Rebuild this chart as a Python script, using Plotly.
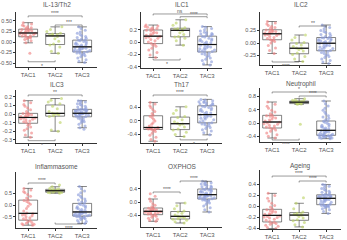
import plotly.graph_objects as go
import numpy as np

groups = ["TAC1", "TAC2", "TAC3"]
colors = ["#F08585", "#BFD46A", "#8E9EDC"]
titles = ["IL-13/Th2", "ILC1", "ILC2", "ILC3", "Th17", "Neutrophil", "Inflammasome", "OXPHOS", "Ageing"]

# ---- values per panel and group ----
il13_tac1 = [-0.27, -0.02, 0.03, 0.06, 0.08, 0.10, 0.11, 0.12, 0.13, 0.14, 0.15, 0.17, 0.18, 0.19, 0.20, 0.21,
             0.22, 0.23, 0.24, 0.25, 0.27, 0.28, 0.29, 0.30, 0.31, 0.33, 0.34, 0.36, 0.38, 0.40, 0.43, 0.46]
il13_tac2 = [-0.27, -0.22, -0.12, -0.07, -0.05, 0.02, 0.08, 0.13, 0.16, 0.17, 0.18, 0.19, 0.21, 0.25, 0.30, 0.36]
il13_tac3 = [-0.49, -0.46, -0.42, -0.38, -0.35, -0.33, -0.31, -0.29, -0.27, -0.26, -0.25, -0.24,
             -0.23, -0.22, -0.21, -0.20, -0.19, -0.18, -0.17, -0.16, -0.15, -0.14, -0.13, -0.12,
             -0.11, -0.10, -0.09, -0.07, -0.06, -0.05, -0.04, -0.02, 0.00, 0.01, 0.03, 0.04,
             0.05, 0.07, 0.09, 0.11, 0.13, 0.15, 0.18, 0.21, 0.24, 0.28, 0.32, 0.36]

ilc1_tac1 = [-0.25, -0.21, -0.17, -0.13, -0.10, -0.07, -0.05, -0.03, -0.02, 0.00, 0.02, 0.04, 0.06, 0.07, 0.08, 0.09,
             0.10, 0.11, 0.12, 0.14, 0.15, 0.16, 0.18, 0.19, 0.20, 0.21, 0.22, 0.23, 0.24, 0.25, 0.26, 0.275]
ilc1_tac2 = [-0.05, 0.02, 0.06, 0.08, 0.09, 0.12, 0.15, 0.18, 0.20, 0.205, 0.21, 0.215, 0.23, 0.27, 0.31, 0.36]
ilc1_tac3 = [-0.37, -0.35, -0.32, -0.30, -0.28, -0.26, -0.24, -0.22, -0.20, -0.19, -0.18, -0.165,
             -0.155, -0.15, -0.14, -0.13, -0.12, -0.11, -0.10, -0.09, -0.08, -0.07, -0.06, -0.05,
             -0.03, -0.02, -0.01, 0.00, 0.01, 0.02, 0.03, 0.04, 0.05, 0.06, 0.08, 0.09,
             0.10, 0.11, 0.12, 0.13, 0.14, 0.15, 0.16, 0.18, 0.20, 0.22, 0.24, 0.25]

ilc2_tac1 = [-0.21, -0.15, -0.10, -0.05, 0.00, 0.03, 0.05, 0.06, 0.07, 0.09, 0.11, 0.13, 0.15, 0.16, 0.17, 0.18,
             0.19, 0.20, 0.21, 0.22, 0.23, 0.24, 0.25, 0.26, 0.27, 0.29, 0.31, 0.33, 0.35, 0.38, 0.40, 0.43]
ilc2_tac2 = [-0.37, -0.32, -0.27, -0.23, -0.20, -0.16, -0.13, -0.11, -0.10, -0.07, -0.04, -0.01, 0.01, 0.06, 0.11, 0.16]
ilc2_tac3 = [-0.41, -0.38, -0.35, -0.32, -0.29, -0.27, -0.25, -0.23, -0.21, -0.19, -0.17, -0.16,
             -0.15, -0.14, -0.12, -0.11, -0.10, -0.08, -0.07, -0.06, -0.05, -0.04, -0.02, -0.01,
             0.00, 0.01, 0.02, 0.03, 0.04, 0.05, 0.06, 0.07, 0.08, 0.09, 0.10, 0.105,
             0.115, 0.13, 0.15, 0.17, 0.19, 0.21, 0.23, 0.25, 0.28, 0.31, 0.33, 0.36]

ilc3_tac1 = [-0.27, -0.245, -0.22, -0.19, -0.17, -0.15, -0.13, -0.115, -0.10, -0.09, -0.08, -0.07, -0.06, -0.055, -0.05, -0.045,
             -0.035, -0.03, -0.025, -0.02, -0.01, -0.005, 0.00, 0.005, 0.01, 0.03, 0.05, 0.07, 0.09, 0.11, 0.13, 0.155]
ilc3_tac2 = [-0.20, -0.185, -0.10, -0.03, -0.02, -0.01, 0.00, 0.005, 0.01, 0.03, 0.06, 0.09, 0.12, 0.14, 0.16, 0.18]
ilc3_tac3 = [-0.178, -0.16, -0.14, -0.12, -0.10, -0.09, -0.08, -0.07, -0.06, -0.05, -0.04, -0.035,
             -0.03, -0.025, -0.02, -0.015, -0.01, -0.005, 0.00, 0.00, 0.002, 0.004, 0.006, 0.007,
             0.01, 0.015, 0.02, 0.025, 0.03, 0.035, 0.04, 0.042, 0.045, 0.048, 0.05, 0.052,
             0.056, 0.06, 0.07, 0.08, 0.09, 0.10, 0.11, 0.12, 0.13, 0.14, 0.15, 0.155]

th17_tac1 = [-0.60, -0.55, -0.48, -0.42, -0.36, -0.31, -0.28, -0.26, -0.245, -0.24, -0.23, -0.22, -0.215, -0.21, -0.20, -0.195,
             -0.19, -0.15, -0.10, -0.05, 0.00, 0.05, 0.10, 0.14, 0.17, 0.22, 0.28, 0.34, 0.40, 0.45, 0.50, 0.55]
th17_tac2 = [-0.46, -0.40, -0.33, -0.27, -0.24, -0.18, -0.12, -0.09, -0.07, -0.02, 0.04, 0.10, 0.13, 0.22, 0.32, 0.42]
th17_tac3 = [-0.41, -0.35, -0.30, -0.26, -0.22, -0.19, -0.16, -0.13, -0.11, -0.09, -0.07, -0.06,
             -0.05, -0.02, 0.01, 0.04, 0.06, 0.08, 0.10, 0.12, 0.14, 0.16, 0.17, 0.18,
             0.20, 0.22, 0.24, 0.26, 0.28, 0.30, 0.33, 0.35, 0.38, 0.40, 0.42, 0.44,
             0.46, 0.47, 0.49, 0.50, 0.52, 0.53, 0.55, 0.57, 0.58, 0.60, 0.62, 0.64]

neut_tac1 = [-0.45, -0.40, -0.35, -0.30, -0.25, -0.21, -0.18, -0.16, -0.14, -0.12, -0.09, -0.07, -0.04, -0.02, 0.00, 0.02,
             0.04, 0.06, 0.09, 0.12, 0.15, 0.18, 0.20, 0.22, 0.24, 0.28, 0.33, 0.38, 0.44, 0.50, 0.56, 0.63]
neut_tac2 = [-0.04, 0.56, 0.57, 0.58, 0.585, 0.60, 0.61, 0.62, 0.63, 0.64, 0.645, 0.65, 0.665, 0.68, 0.70, 0.73]
neut_tac3 = [-0.47, -0.46, -0.45, -0.44, -0.43, -0.42, -0.41, -0.40, -0.395, -0.39, -0.38, -0.375,
             -0.365, -0.36, -0.35, -0.34, -0.33, -0.31, -0.30, -0.28, -0.27, -0.25, -0.24, -0.23,
             -0.21, -0.19, -0.17, -0.15, -0.13, -0.11, -0.09, -0.07, -0.04, -0.01, 0.02, 0.05,
             0.07, 0.10, 0.14, 0.18, 0.22, 0.27, 0.32, 0.38, 0.44, 0.51, 0.58, 0.66]

infl_tac1 = [-0.86, -0.84, -0.82, -0.80, -0.78, -0.75, -0.71, -0.67, -0.62, -0.58, -0.54, -0.50, -0.46, -0.43, -0.40, -0.37,
             -0.34, -0.25, -0.15, -0.05, 0.03, 0.10, 0.15, 0.19, 0.23, 0.30, 0.38, 0.45, 0.52, 0.58, 0.64, 0.71]
infl_tac2 = [0.50, 0.52, 0.53, 0.54, 0.55, 0.57, 0.59, 0.60, 0.62, 0.63, 0.65, 0.66, 0.68, 0.72, 0.78, 0.86]
infl_tac3 = [-0.79, -0.74, -0.70, -0.66, -0.62, -0.59, -0.56, -0.54, -0.52, -0.50, -0.49, -0.48,
             -0.46, -0.45, -0.43, -0.42, -0.40, -0.39, -0.37, -0.36, -0.34, -0.33, -0.32, -0.31,
             -0.28, -0.25, -0.22, -0.19, -0.16, -0.13, -0.10, -0.07, -0.04, -0.01, 0.02, 0.05,
             0.09, 0.13, 0.17, 0.21, 0.26, 0.31, 0.37, 0.44, 0.52, 0.60, 0.70, 0.79]

oxphos_tac1 = [-0.58, -0.55, -0.52, -0.49, -0.46, -0.43, -0.41, -0.39, -0.37, -0.36, -0.34, -0.33, -0.32, -0.31, -0.30, -0.29,
               -0.27, -0.26, -0.25, -0.24, -0.23, -0.21, -0.20, -0.19, -0.17, -0.14, -0.10, -0.05, 0.02, 0.09, 0.17, 0.25]
oxphos_tac2 = [-0.63, -0.59, -0.55, -0.52, -0.50, -0.47, -0.45, -0.44, -0.42, -0.39, -0.34, -0.30, -0.27, -0.20, -0.11, -0.03]
oxphos_tac3 = [-0.30, -0.23, -0.17, -0.12, -0.07, -0.03, 0.00, 0.03, 0.05, 0.06, 0.07, 0.08,
               0.10, 0.11, 0.12, 0.13, 0.14, 0.15, 0.16, 0.17, 0.18, 0.19, 0.20, 0.21,
               0.23, 0.24, 0.26, 0.27, 0.29, 0.30, 0.32, 0.33, 0.35, 0.36, 0.37, 0.38,
               0.40, 0.42, 0.44, 0.46, 0.48, 0.50, 0.52, 0.54, 0.56, 0.58, 0.60, 0.62]

ageing_tac1 = [-0.41, -0.39, -0.37, -0.35, -0.33, -0.32, -0.31, -0.30, -0.28, -0.26, -0.24, -0.22, -0.21, -0.20, -0.19, -0.18,
               -0.16, -0.15, -0.14, -0.12, -0.11, -0.09, -0.08, -0.07, -0.05, -0.02, 0.01, 0.05, 0.09, 0.14, 0.19, 0.23]
ageing_tac2 = [-0.38, -0.34, -0.30, -0.27, -0.25, -0.22, -0.19, -0.17, -0.16, -0.15, -0.14, -0.13, -0.11, -0.05, 0.05, 0.15]
ageing_tac3 = [-0.135, -0.10, -0.07, -0.05, -0.03, -0.02, -0.01, 0.00, 0.005, 0.01, 0.015, 0.018,
               0.03, 0.04, 0.06, 0.07, 0.08, 0.09, 0.10, 0.11, 0.12, 0.125, 0.13, 0.135,
               0.145, 0.15, 0.155, 0.16, 0.165, 0.17, 0.175, 0.18, 0.185, 0.19, 0.195, 0.198,
               0.21, 0.22, 0.24, 0.25, 0.27, 0.28, 0.30, 0.32, 0.34, 0.36, 0.38, 0.39]

panel_values = [
    [il13_tac1, il13_tac2, il13_tac3],
    [ilc1_tac1, ilc1_tac2, ilc1_tac3],
    [ilc2_tac1, ilc2_tac2, ilc2_tac3],
    [ilc3_tac1, ilc3_tac2, ilc3_tac3],
    [th17_tac1, th17_tac2, th17_tac3],
    [neut_tac1, neut_tac2, neut_tac3],
    [infl_tac1, infl_tac2, infl_tac3],
    [oxphos_tac1, oxphos_tac2, oxphos_tac3],
    [ageing_tac1, ageing_tac2, ageing_tac3],
]

# y tick values per panel
panel_ticks = [
    [-0.5, -0.25, 0, 0.25, 0.5],
    [-0.4, -0.2, 0, 0.2],
    [-0.25, 0, 0.25],
    [-0.3, -0.2, -0.1, 0, 0.1, 0.2],
    [-0.4, 0, 0.4],
    [-0.4, 0, 0.4, 0.8],
    [-0.5, 0, 0.5],
    [-0.4, 0, 0.4],
    [-0.4, -0.2, 0, 0.2, 0.4],
]
tick_decimals = [2, 1, 2, 1, 1, 1, 1, 1, 1]

# significance comparisons: (group a, group b, level, label, side)
panel_comparisons = [
    [(1, 3, 0.62, "****", "top"), (2, 3, 0.405, "***", "top"), (1, 2, -0.47, "*", "bottom")],
    [(1, 3, 0.454, "ns", "top"), (2, 3, 0.41, "****", "top"), (1, 2, -0.29, "*", "bottom")],
    [(2, 3, 0.34, "**", "top"), (1, 2, -0.38, "****", "bottom")],
    [(1, 3, 0.221, "**", "top"), (1, 2, -0.31, "*", "bottom")],
    [(1, 3, 0.77, "****", "top"), (2, 3, -0.56, "*", "bottom")],
    [(1, 3, 0.93, "*", "top"), (2, 3, 0.81, "****", "top"), (1, 2, -0.51, "****", "bottom")],
    [(1, 2, 0.94, "****", "top"), (2, 3, -0.81, "****", "bottom")],
    [(1, 2, 0.30, "****", "top"), (2, 3, 0.63, "****", "top")],
    [(1, 3, 0.545, "****", "top"), (2, 3, 0.455, "****", "top")],
]

# ---- layout geometry (pixels) ----
W, H = 347, 240
col_x = [(16, 97), (141, 222), (260, 341)]
panel_y = [(12, 67), (12, 68), (12, 65),
           (90, 143), (90, 143), (88, 142),
           (172, 228), (170, 227), (170, 229)]
panel_yrange = [(-0.595, 0.714), (-0.42, 0.486), (-0.44, 0.62),
                (-0.337, 0.279), (-0.652, 0.918), (-0.57, 1.05),
                (-0.98, 1.41), (-0.75, 0.96), (-0.418, 0.655)]
title_y = [4, 84, 166]
xrange_ = [0.55, 3.55]

FONT = "Liberation Sans"
AX = "#333333"
TXT = "#555555"

fig = go.Figure()
layout = dict(template="none", width=W, height=H, margin=dict(l=0, r=0, t=0, b=0),
              paper_bgcolor="white", plot_bgcolor="white", showlegend=False,
              boxmode="overlay", font=dict(family=FONT, size=6, color=TXT))
shapes = []
annotations = []

for p in range(9):
    r, c = divmod(p, 3)
    sfx = "" if p == 0 else str(p + 1)
    x0, x1 = col_x[c]
    yt, yb = panel_y[p]
    lo, hi = panel_yrange[p]
    ppu = (yb - yt) / (hi - lo)  # pixels per y unit
    layout["xaxis" + sfx] = dict(domain=[x0 / W, x1 / W], anchor="y" + sfx, range=xrange_,
                                 tickvals=[1, 2, 3], ticktext=groups, showline=True,
                                 linecolor=AX, linewidth=0.7, ticks="outside", ticklen=2,
                                 tickwidth=0.6, tickcolor=AX, showgrid=False, zeroline=False,
                                 tickfont=dict(size=6, color=TXT, family=FONT))
    d = tick_decimals[p]
    layout["yaxis" + sfx] = dict(domain=[1 - yb / H, 1 - yt / H], anchor="x" + sfx,
                                 range=[lo, hi], tickvals=panel_ticks[p],
                                 ticktext=[f"{v:.{d}f}" for v in panel_ticks[p]],
                                 showline=True, linecolor=AX, linewidth=0.7, ticks="outside",
                                 ticklen=2, tickwidth=0.6, tickcolor=AX, showgrid=False,
                                 zeroline=False, tickfont=dict(size=5.5, color=TXT, family=FONT))
    xr, yr = "x" + sfx, "y" + sfx
    for g in range(3):
        vals = panel_values[p][g]
        fig.add_trace(go.Box(y=vals, x0=g + 1, width=0.7, boxpoints="all", jitter=0.9,
                             pointpos=0, fillcolor="rgba(0,0,0,0)",
                             line=dict(color=AX, width=0.6),
                             marker=dict(color=colors[g], size=3, opacity=0.65),
                             xaxis=xr, yaxis=yr, showlegend=False, name=groups[g]))
        med = float(np.median(vals))
        shapes.append(dict(type="line", xref=xr, yref=yr, x0=g + 1 - 0.35, x1=g + 1 + 0.35,
                           y0=med, y1=med, line=dict(color="#111111", width=1.2)))
    # title
    annotations.append(dict(text=titles[p], xref="paper", yref="paper",
                            x=(x0 + x1) / 2 / W, y=1 - title_y[r] / H, showarrow=False,
                            xanchor="center", yanchor="middle",
                            font=dict(size=6.5, color=TXT, family=FONT)))
    # brackets
    tip = 1.5 / ppu
    for (a, b, lev, lab, side) in panel_comparisons[p]:
        sgn = -1 if side == "top" else 1
        shapes.append(dict(type="path", xref=xr, yref=yr,
                           path=f"M {a},{lev + sgn * tip} L {a},{lev} L {b},{lev} L {b},{lev + sgn * tip}",
                           line=dict(color="#555555", width=0.6)))
        annotations.append(dict(text=lab, xref=xr, yref=yr, x=(a + b) / 2, y=lev,
                                showarrow=False, xanchor="center",
                                yanchor="bottom" if side == "top" else "top",
                                yshift=-2 if side == "top" else 1,
                                font=dict(size=5, color=TXT, family=FONT)))

layout["shapes"] = shapes
layout["annotations"] = annotations
fig.update_layout(**layout)
fig.write_html("out.html")
